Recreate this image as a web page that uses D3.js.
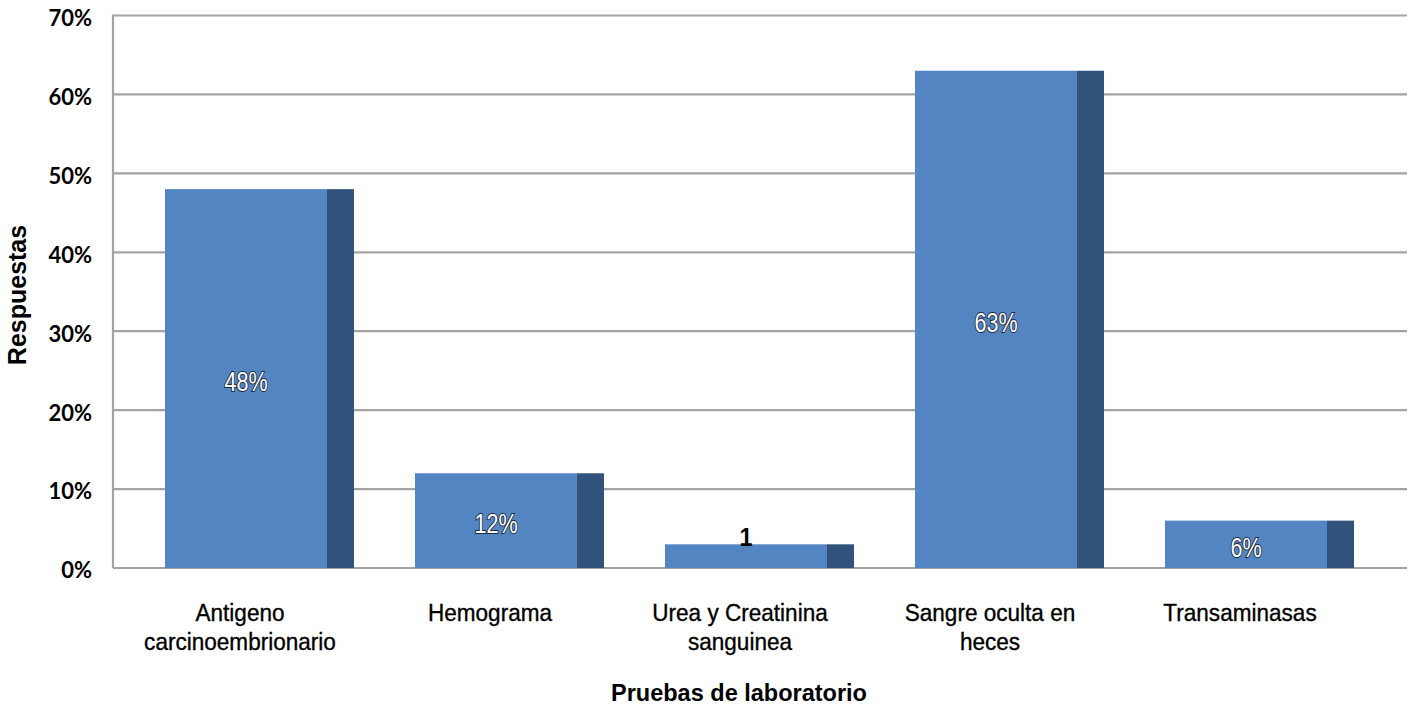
<!DOCTYPE html>
<html>
<head>
<meta charset="utf-8">
<script src="https://cdn.jsdelivr.net/npm/d3@7"></script>
<style>
  html, body { margin: 0; padding: 0; background: #fff; }
  svg { display: block; }
</style>
</head>
<body>
<svg id="chart" width="1412" height="706"></svg>
<script>
// Pruebas de laboratorio solicitadas (proporción de respuestas)
const categories = [
  ["Antigeno", "carcinoembrionario"],
  ["Hemograma"],
  ["Urea y Creatinina", "sanguinea"],
  ["Sangre oculta en", "heces"],
  ["Transaminasas"]
];
const values = [0.48, 0.12, 0.03, 0.63, 0.06];
const valueLabels = ["48%", "12%", null, "63%", "6%"];
const countLabels = [null, null, "1", null, null];
const yTicks = [0, 0.1, 0.2, 0.3, 0.4, 0.5, 0.6, 0.7];

const svg = d3.select("#chart");

const plot = { left: 113, right: 1407, top: 15.5, bottom: 568 };
const keys = categories.map((c, i) => i);

const x = d3.scaleBand().domain(keys).range([115, 1365]).padding(0);
const y = d3.scaleLinear().domain([0, 0.7]).range([plot.bottom, plot.top]);
const bw = x.bandwidth();
const frontOffset = bw * 0.2, frontW = bw * 0.648, sideW = bw * 0.108;

const frontColor = "#5385C3";
const sideColor = "#31527B";
const gridColor = "#a3a3a3";
const sans = "'Liberation Sans', Arial, sans-serif";

// horizontal gridlines
svg.append("g")
  .selectAll("line")
  .data(yTicks.filter(t => t > 0))
  .join("line")
  .attr("x1", plot.left).attr("x2", plot.right)
  .attr("y1", d => y(d)).attr("y2", d => y(d))
  .attr("stroke", gridColor).attr("stroke-width", 2.2);

// axis lines
svg.append("line")
  .attr("x1", plot.left).attr("x2", plot.left)
  .attr("y1", plot.top - 1).attr("y2", plot.bottom)
  .attr("stroke", gridColor).attr("stroke-width", 2.2);
svg.append("line")
  .attr("x1", plot.left).attr("x2", plot.right)
  .attr("y1", plot.bottom).attr("y2", plot.bottom)
  .attr("stroke", gridColor).attr("stroke-width", 2.2);

// y tick labels
const yAxis = d3.axisLeft(y).tickValues(yTicks).tickFormat(d3.format(".0%")).tickSize(0).tickPadding(0);
const ya = svg.append("g").attr("transform", "translate(92,0)").call(yAxis);
ya.select(".domain").remove();
ya.selectAll("text")
  .attr("font-family", "Lato, 'Liberation Sans', sans-serif")
  .attr("font-weight", "bold")
  .attr("font-size", 22)
  .attr("fill", "#000")
  .attr("dy", "0.45em");

// bars: front face and dark side face
const bars = svg.append("g");
bars.selectAll("rect.side")
  .data(values)
  .join("rect")
  .attr("class", "side")
  .attr("x", (d, i) => x(i) + frontOffset + frontW)
  .attr("y", d => y(d))
  .attr("width", sideW)
  .attr("height", d => y(0) - y(d))
  .attr("fill", sideColor);
bars.selectAll("rect.front")
  .data(values)
  .join("rect")
  .attr("class", "front")
  .attr("x", (d, i) => x(i) + frontOffset)
  .attr("y", d => y(d))
  .attr("width", frontW)
  .attr("height", d => y(0) - y(d))
  .attr("fill", frontColor);

// value labels inside bars (narrow white text with dark outline)
svg.append("g")
  .selectAll("text")
  .data(values.map((v, i) => ({ v, i, t: valueLabels[i] })).filter(d => d.t))
  .join("text")
  .attr("transform", d => `translate(${x(d.i) + frontOffset + frontW / 2},${(y(d.v) + y(0)) / 2 + 12.5}) scale(0.8,1)`)
  .attr("text-anchor", "middle")
  .attr("font-family", sans)
  .attr("font-size", 27)
  .attr("fill", "#fff")
  .attr("stroke", "#1e2a3a")
  .attr("stroke-width", 2)
  .attr("paint-order", "stroke")
  .text(d => d.t);

// count label above the small bar
svg.append("g")
  .selectAll("text")
  .data(values.map((v, i) => ({ v, i, t: countLabels[i] })).filter(d => d.t))
  .join("text")
  .attr("transform", d => `translate(${x(d.i) + frontOffset + frontW / 2},${y(d.v) + 1.5}) scale(0.9,1)`)
  .attr("text-anchor", "middle")
  .attr("font-family", sans)
  .attr("font-weight", "bold")
  .attr("font-size", 26)
  .attr("fill", "#000")
  .text(d => d.t);

// category labels
const catG = svg.append("g");
categories.forEach((lines, i) => {
  const t = catG.append("text")
    .attr("transform", `translate(${x(i) + bw / 2},621) scale(0.94,1)`)
    .attr("text-anchor", "middle")
    .attr("font-family", sans)
    .attr("font-size", 24)
    .attr("fill", "#000")
    .attr("stroke", "#000")
    .attr("stroke-width", 0.35);
  lines.forEach((ln, k) => {
    t.append("tspan")
      .attr("x", 0)
      .attr("dy", k === 0 ? 0 : 29.5)
      .text(ln);
  });
});

// axis titles
svg.append("text")
  .attr("x", 739)
  .attr("y", 701)
  .attr("text-anchor", "middle")
  .attr("font-family", sans)
  .attr("font-weight", "bold")
  .attr("font-size", 23.5)
  .attr("fill", "#000")
  .text("Pruebas de laboratorio");

svg.append("text")
  .attr("transform", "translate(26,295) rotate(-90)")
  .attr("text-anchor", "middle")
  .attr("font-family", sans)
  .attr("font-weight", "bold")
  .attr("font-size", 25)
  .attr("fill", "#000")
  .text("Respuestas");
</script>
</body>
</html>
